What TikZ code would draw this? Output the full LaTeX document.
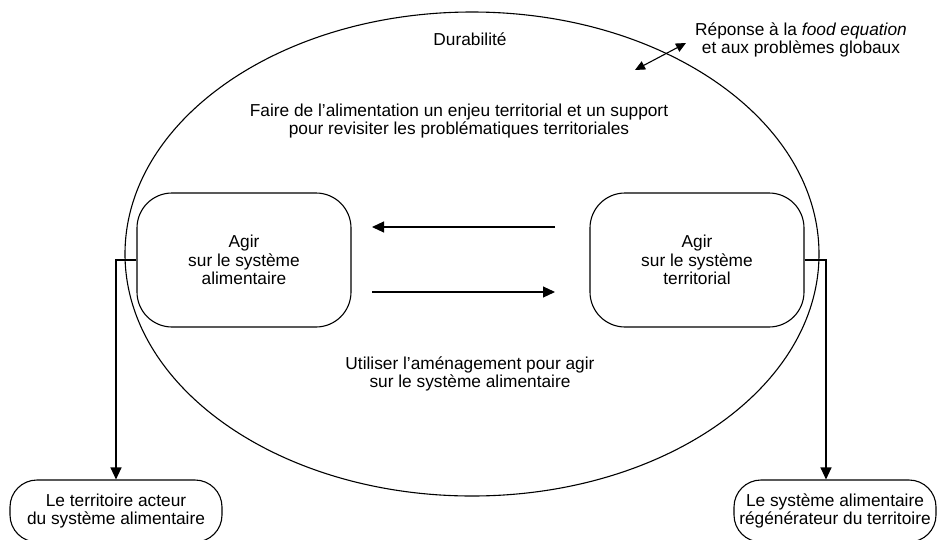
\documentclass[tikz,border=0pt]{standalone}
\usepackage{fontspec}
\setmainfont{Liberation Sans}
\usetikzlibrary{arrows.meta,shapes.geometric}
\begin{document}
\begin{tikzpicture}[x=1pt,y=-1pt,
  txt/.style={align=center,font=\fontsize{17.3}{18.8}\selectfont,inner sep=0pt},
  actbox/.style={draw,line width=1.1pt,rounded corners=35pt,minimum width=214pt,minimum height=134pt,txt},
  outbox/.style={draw,line width=1.1pt,rounded corners=27pt,minimum height=62pt,txt},
  arr/.style={line width=1.1pt,-{Triangle[length=12pt,width=11pt]}},
  darr/.style={line width=1.1pt,{Triangle[length=10pt,width=9pt]}-{Triangle[length=10pt,width=9pt]}}]
\useasboundingbox (0,0) rectangle (938,539);
\clip (0,0) rectangle (938,539);
\fill[white] (0,0) rectangle (938,539);
\node[draw,line width=1.1pt,ellipse,minimum width=694pt,minimum height=484pt,inner sep=0pt] (E) at (472,254) {};
\node[txt] (dur) at (470,39) {Durabilité};
\node[txt] (faire) at (459,121) {Faire de l’alimentation un enjeu territorial et un support\\pour revisiter les problématiques territoriales};
\node[txt] (util) at (470,374) {Utiliser l’aménagement pour agir\\sur le système alimentaire};
\node[txt] (rep) at (801,40) {Réponse à la \textit{food equation}\\et aux problèmes globaux};
\node[actbox] (L) at (244,260) {Agir\\sur le système\\alimentaire};
\node[actbox] (R) at (697,260) {Agir\\sur le système\\territorial};
\node[outbox,minimum width=212pt] (BL) at (116,511) {Le territoire acteur\\du système alimentaire};
\node[outbox,minimum width=202pt] (BR) at (835,511) {Le système alimentaire\\régénérateur du territoire};
\coordinate (a1) at (555,227);
\coordinate (a2) at (372,227);
\coordinate (b1) at (372,292);
\coordinate (b2) at (555,292);
\draw[arr] (a1) -- (a2);
\draw[arr] (b1) -- (b2);
\coordinate (lc) at (116,260);
\coordinate (rc) at (826,260);
\draw[arr] (L.west) -- (lc) -- (lc |- BL.north);
\draw[arr] (R.east) -- (rc) -- (rc |- BR.north);
\coordinate (d1) at (635,70);
\coordinate (d2) at (686,43);
\draw[darr] (d1) -- (d2);
\end{tikzpicture}
\end{document}
